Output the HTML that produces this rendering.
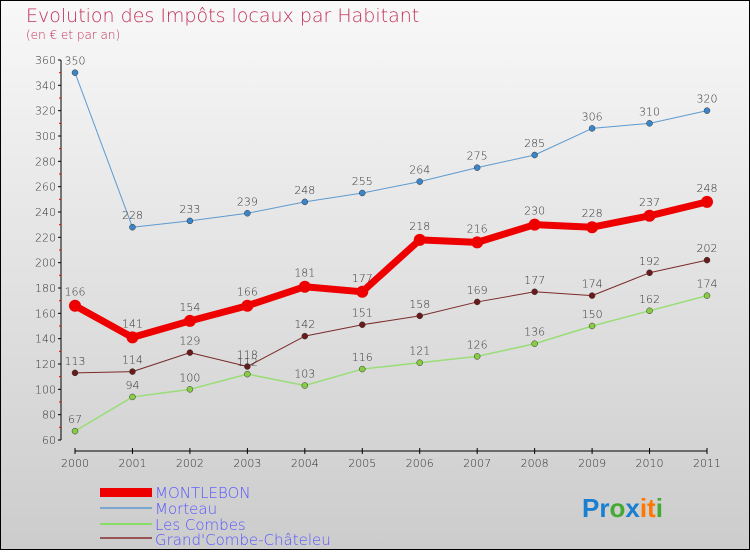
<!DOCTYPE html>
<html><head><meta charset="utf-8"><style>
body{margin:0}
#c{width:750px;height:550px;position:relative;font-family:"DejaVu Sans Light","DejaVu Sans","Liberation Sans",sans-serif}
</style></head><body>
<div id="c">
<svg id="s" width="750" height="550" xmlns="http://www.w3.org/2000/svg">
<defs><linearGradient id="bg" x1="0" y1="0" x2="0" y2="1"><stop offset="0" stop-color="#f8f8f8"/><stop offset="1" stop-color="#cccccc"/></linearGradient></defs>
<rect x="0.5" y="0.5" width="749" height="549" fill="url(#bg)" stroke="#000"/>
<text x="26" y="22" font-size="19" fill="#c0305a">Evolution des Impôts locaux par Habitant</text>
<text x="26" y="39" font-size="12" fill="#c0305a">(en € et par an)</text>
<g id="axes"></g><g id="series"></g>
<g font-size="15" fill="#5555ff">
<rect x="100" y="488" width="52" height="9" fill="#ee0000"/>
<text x="155" y="498">MONTLEBON</text>
<line x1="100" y1="508" x2="152" y2="508" stroke="#7aa6d0" stroke-width="2"/>
<text x="155" y="514">Morteau</text>
<line x1="100" y1="524" x2="152" y2="524" stroke="#88dd66" stroke-width="2"/>
<text x="155" y="530">Les Combes</text>
<line x1="100" y1="538" x2="152" y2="538" stroke="#995555" stroke-width="2"/>
<text x="155" y="545">Grand'Combe-Châteleu</text>
</g>
<text x="582" y="517" font-size="26" font-weight="bold" font-family="Liberation Sans,sans-serif"><tspan fill="#1a7fd0">Pr</tspan><tspan fill="#44aa33">o</tspan><tspan fill="#1a7fd0">x</tspan><tspan fill="#ff7700">it</tspan><tspan fill="#44aa33">i</tspan></text>
</svg></div>
<script>
const years=[2000,2001,2002,2003,2004,2005,2006,2007,2008,2009,2010,2011];
const yTicks=[60,80,100,120,140,160,180,200,220,240,260,280,300,320,340,360];
const montlebon=[166,141,154,166,181,177,218,216,230,228,237,248];
const morteau=[350,228,233,239,248,255,264,275,285,306,310,320];
const lesCombes=[67,94,100,112,103,116,121,126,136,150,162,174];
const grandCombe=[113,114,129,118,142,151,158,169,177,174,192,202];
const NS="http://www.w3.org/2000/svg";
const X=i=>75+i*(707-75)/11;
const Y=v=>440-(v-60)*380/300;
function el(t,a,p){const e=document.createElementNS(NS,t);for(const k in a)e.setAttribute(k,a[k]);p.appendChild(e);return e;}
const ax=document.getElementById('axes');
let yl=el('line',{x1:61,y1:60,x2:61,y2:440,stroke:'#000'},ax);


let xl=el('line',{x1:75,y1:451,x2:707,y2:451,stroke:'#000'},ax);


yTicks.forEach(v=>{
 el('line',{x1:58,y1:Y(v),x2:61,y2:Y(v),stroke:'#000'},ax);
 if(v<360) el('line',{x1:59,y1:Y(v+10),x2:61,y2:Y(v+10),stroke:'#e00'},ax);
 const t=el('text',{x:56,y:Y(v)+4,'font-size':11,'text-anchor':'end',fill:'#333'},ax);
 t.textContent=v;
 
 
});
years.forEach((y,i)=>{
 el('line',{x1:X(i),y1:448,x2:X(i),y2:454,stroke:'#000'},ax);
 const t=el('text',{x:X(i),y:467,'font-size':11,'text-anchor':'middle',fill:'#333'},ax);
 t.textContent=y;
 
 
});
const sg=document.getElementById('series');
function series(data,name,color,w,r,dot,lab){
 const g=el('g',{},sg);
 
 
 const p=el('polyline',{points:data.map((v,i)=>X(i)+','+Y(v)).join(' '),fill:'none',stroke:color,'stroke-width':w,'stroke-linejoin':'round'},g);
 
 
 data.forEach((v,i)=>{
  const c=el('circle',{cx:X(i),cy:Y(v),r:r,fill:dot,stroke:w>3?color:'#333','stroke-width':w>3?0:0.5},g);
  
  
  const t=el('text',{x:X(i),y:Y(v)-(w>3?10:8),'font-size':11,'text-anchor':'middle',fill:'#333'},g);
  t.textContent=v;
  
  
 });
}
series(grandCombe,'grand-combe','#7a2a2a',1,3,'#6a1a1a');
series(lesCombes,'les-combes','#99dd77',1.5,3,'#88cc44');
series(morteau,'morteau','#5e9ad0',1,3,'#3a86c8');
series(montlebon,'montlebon','#ee0000',7,6,'#ee0000');
</script>
</body></html>
